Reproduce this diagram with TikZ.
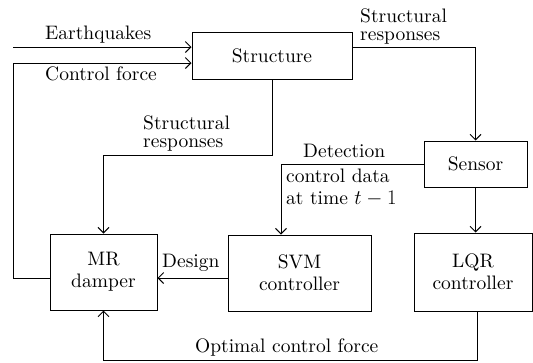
\documentclass[tikz,border=0pt]{standalone}
\usepackage{fontspec}
\setmainfont{lmroman10-regular.otf}[ItalicFont=lmroman10-italic.otf,BoldFont=lmroman10-bold.otf]
\usetikzlibrary{arrows.meta}
\begin{document}
\begin{tikzpicture}[x=1pt,y=-1pt,
  box/.style={draw,line width=1pt,align=center,inner sep=0pt,font=\fontsize{19.5}{22}\selectfont},
  lbl/.style={inner sep=0pt,anchor=base west,align=left,font=\fontsize{19.5}{18}\selectfont},
  arr/.style={line width=1pt,-{Straight Barb[length=5.5pt,width=11pt,line width=1pt]}}]
\useasboundingbox (0,0) rectangle (533,362);
\node[box,minimum width=160pt,minimum height=47pt] (str) at (272,55.5) {Structure};
\node[box,minimum width=103pt,minimum height=46pt] (sen) at (475.5,164) {Sensor};
\node[box,minimum width=118pt,minimum height=78pt] (lqr) at (473,272) {LQR\\controller};
\node[box,minimum width=143pt,minimum height=76pt] (svm) at (299.5,273) {SVM\\controller};
\node[box,minimum width=107pt,minimum height=76pt] (mr) at (103.5,272) {MR\\damper};
\coordinate (eq) at (13,47);
\draw[arr] (eq) -- (eq -| str.west);
\draw[arr] ([yshift=-6pt]mr.west) -- ++(-36,0) |- ([yshift=-7.5pt]str.west);
\draw[arr] ([yshift=8.5pt]str.east) -| (sen.north);
\draw[arr] (sen.south) -- (lqr.north -| sen.south);
\draw[arr] (str.south) -- ++(0,76) -| (mr.north);
\draw[arr] (sen.west) -| ([xshift=-18.5pt]svm.north);
\draw[arr] ([yshift=-5pt]svm.west) -- ([yshift=-5pt]svm.west -| mr.east);
\draw[arr] ([xshift=4pt]lqr.south) -- ++(0,49) -| (mr.south);
\node[lbl] (t1) at (45,39) {Earthquakes};
\node[lbl] (t2) at (45,80.5) {Control force};
\node[lbl] (t3) at (360,40) {Structural\\responses};
\node[lbl] (t4) at (143,147) {Structural\\responses};
\node[lbl] (t5) at (303,157) {Detection};
\node[lbl,font=\fontsize{19.5}{22}\selectfont] (t6) at (286,204) {control data\\at time $t-1$};
\node[lbl] (t7) at (162,267) {Design};
\node[lbl] (t8) at (195,352) {Optimal control force};
\end{tikzpicture}
\end{document}
